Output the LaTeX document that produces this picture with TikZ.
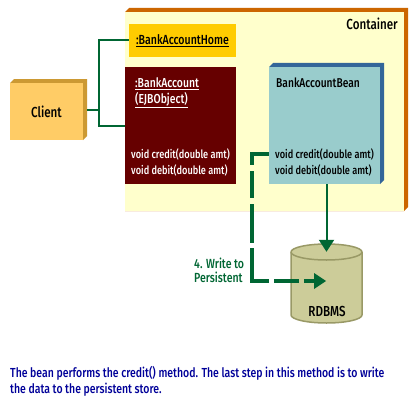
\documentclass[tikz,border=0pt]{standalone}
\usepackage{fontspec}
\setmainfont[FakeStretch=0.8,BoldFont={* Medium},BoldFeatures={FakeStretch=0.8}]{Fira Sans}
\usetikzlibrary{shapes.geometric, arrows.meta, positioning, calc}
\definecolor{wallorange}{RGB}{204, 102, 0}
\definecolor{wallcream}{RGB}{255, 255, 204}
\definecolor{homeyellow}{RGB}{255, 204, 0}
\definecolor{accountred}{RGB}{102, 0, 0}
\definecolor{clientgold}{RGB}{255, 204, 102}
\definecolor{clientedge}{RGB}{204, 153, 51}
\definecolor{beanteal}{RGB}{153, 204, 204}
\definecolor{beanedge}{RGB}{51, 102, 153}
\definecolor{linkgreen}{RGB}{0, 102, 51}
\definecolor{dbfill}{RGB}{204, 204, 153}
\definecolor{dbedge}{RGB}{153, 153, 102}
\definecolor{noteblue}{RGB}{0, 0, 153}
\tikzset{
  flatbox/.style={rectangle, inner sep=0pt, minimum width=#1},
  txt/.style={inner sep=0pt, font=\fontsize{11.5}{13}\selectfont\bfseries, anchor=west},
  capline/.style={inner sep=0pt, anchor=base west, text=noteblue, font=\fontsize{13.1}{16}\selectfont\bfseries},
  link/.style={draw=linkgreen, line width=2pt},
}
\begin{document}
\begin{tikzpicture}[x=1pt, y=-1pt]
\useasboundingbox (0,0) rectangle (420,420);
\fill[white] (0,0) rectangle (420,420);
% container
\fill[wallorange] (125,12) -- (129,8) -- (408,8) -- (408,207) -- (404,211) -- (125,211) -- cycle;
\fill[wallcream] (125,12) rectangle (404,211);
\node[inner sep=0pt, anchor=east, font=\fontsize{14.5}{16}\selectfont\bfseries] (container) at (398,24) {Container};
% boxes
\fill[clientedge] (10,83) -- (14,79) -- (87,79) -- (87,136) -- (83,140) -- cycle;
\node[flatbox=73pt, minimum height=57pt, fill=clientgold, font=\fontsize{14.5}{16}\selectfont\bfseries] (client) at (46.5,111.5) {Client};
\node[flatbox=107pt, minimum height=33pt, fill=homeyellow, font=\fontsize{13.2}{15}\selectfont\bfseries] (home) at (182.5,40.5) {\underline{:BankAccountHome}};
\node[flatbox=111pt, minimum height=117pt, fill=accountred] (account) at (180.5,125.5) {};
\fill[beanedge] (269,67) -- (273,63) -- (384,63) -- (384,180) -- (380,184) -- cycle;
\node[flatbox=111pt, minimum height=117pt, fill=beanteal] (bean) at (324.5,125.5) {};
% texts
\node[txt, white, font=\fontsize{13}{15}\selectfont\bfseries] (accountname) at (135,84) {\underline{:BankAccount}};
\node[txt, white, font=\fontsize{13}{15}\selectfont\bfseries] (ejbname) at (135,100) {\underline{(EJBObject)}};
\node[txt, white] (accountcredit) at (131,154) {void credit(double amt)};
\node[txt, white] (accountdebit) at (131,170) {void debit(double amt)};
\node[txt, font=\fontsize{12.8}{15}\selectfont\bfseries] (beanname) at (276,83) {BankAccountBean};
\node[txt] (beancredit) at (275,154) {void credit(double amt)};
\node[txt] (beandebit) at (275,170) {void debit(double amt)};
% database
\node[flatbox=71pt, minimum height=79pt] (rdbms) at (326.5,283.5) {};
\draw[draw=dbedge, fill=dbfill, line width=1.5pt] (291,252) -- (291,315) arc[start angle=180, end angle=360, x radius=35.5pt, y radius=8pt] -- (362,252) arc[start angle=0, end angle=180, x radius=35.5pt, y radius=8pt] -- cycle;
\draw[draw=dbedge, line width=1.5pt] (291,252) arc[start angle=180, end angle=360, x radius=35.5pt, y radius=8pt];
\node[inner sep=0pt, font=\fontsize{14.5}{16}\selectfont\bfseries] (rdbmsname) at (327,311) {RDBMS};
% connectors
\coordinate (fork) at (99,110);
\draw[link, shorten <=4pt] ([yshift=1.5pt]client.east) -- (fork);
\draw[link] (fork) |- (home.west);
\draw[link] (fork) |- (account.west);
\draw[link, -{Triangle[length=12pt, width=15pt]}] (bean.south -| rdbms.north) -- ([yshift=-8pt]rdbms.north);
\coordinate (bend) at (252,154);
\coordinate (bottom) at (252,281);
\coordinate (tip) at (314,281);
\draw[draw=linkgreen, line width=4pt, dash pattern=on 28pt off 6pt on 27pt off 6pt on 39pt off 5pt on 50pt off 5pt on 25pt off 5pt on 40pt] (bean.west |- beancredit.west) -- (bend) -- (bottom) -- (tip);
\fill[linkgreen] (314,273) -- (326,281) -- (314,289) -- cycle;
\node[inner sep=0pt, anchor=north west, align=left, text=linkgreen, font=\fontsize{13.2}{14}\selectfont\bfseries] (writelabel) at (194,258) {4. Write to\\Persistent};
% caption
\node[capline] (captiontop) at (10,377) {The bean performs the credit() method. The last step in this method is to write};
\node[capline] (captionend) at (10,393) {the data to the persistent store.};
\end{tikzpicture}
\end{document}
